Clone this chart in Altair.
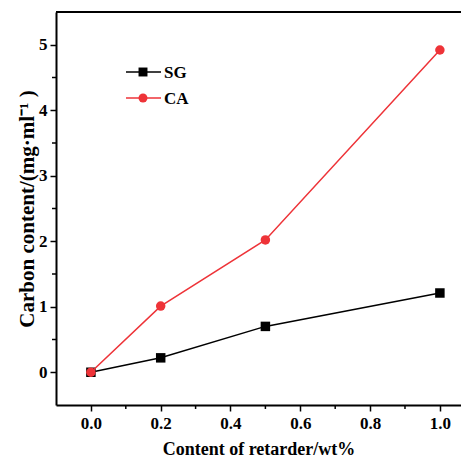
import altair as alt
import pandas as pd

# ---- data ----
x_vals = [0.0, 0.2, 0.5, 1.0]
sg_vals = [0.0, 0.22, 0.70, 1.21]
ca_vals = [0.0, 1.01, 2.02, 4.92]
series = ["SG", "CA"]
colors = ["#000000", "#ee3338"]
shapes = ["square", "circle"]
x_ticks = [0.0, 0.2, 0.4, 0.6, 0.8, 1.0]
x_minor = [0.1, 0.3, 0.5, 0.7, 0.9]
y_ticks = [0, 1, 2, 3, 4, 5]
y_minor = [0.5, 1.5, 2.5, 3.5, 4.5]

FONT = "Liberation Serif"
W, H = 405, 393

sg_df = pd.DataFrame({"x": x_vals, "y": sg_vals, "s": "SG"})
ca_df = pd.DataFrame({"x": x_vals, "y": ca_vals, "s": "CA"})

xs = alt.Scale(domain=[-0.1, 1.0605], nice=False, zero=False)
ys = alt.Scale(domain=[-0.5, 5.5], nice=False, zero=False)

x_axis = alt.Axis(values=x_ticks, format=".1f", title="Content of retarder/wt%",
                  grid=False, tickSize=6, tickWidth=1.5, domainWidth=2,
                  labelPadding=4, titlePadding=9, titleFontSize=18)
y_axis = alt.Axis(values=y_ticks, format="d", title="Carbon content/(mg·ml⁻¹ )",
                  grid=False, tickSize=6, tickWidth=1.5, domainWidth=2,
                  labelPadding=3, titlePadding=1, titleFontSize=21)

X = alt.X("x:Q", scale=xs, axis=x_axis)
Y = alt.Y("y:Q", scale=ys, axis=y_axis)


def series_layers(df, color, shape):
    line = alt.Chart(df).mark_line(color=color, strokeWidth=1.5).encode(x=X, y=Y)
    pts = alt.Chart(df).mark_point(color=color, filled=True, opacity=1,
                                   shape=shape, size=90).encode(x=X, y=Y)
    return [line, pts]


layers = []
layers += series_layers(sg_df, colors[0], shapes[0])
layers += series_layers(ca_df, colors[1], shapes[1])

# minor ticks
xm = alt.Chart(pd.DataFrame({"x": x_minor})).mark_rule(color="black", strokeWidth=1.5).encode(
    x=X, y=alt.value(H), y2=alt.value(H + 4))
ym = alt.Chart(pd.DataFrame({"y": y_minor})).mark_rule(color="black", strokeWidth=1.5).encode(
    y=Y, x=alt.value(0), x2=alt.value(-4))
top = alt.Chart(pd.DataFrame({"a": [0]})).mark_rule(color="black", strokeWidth=2).encode(
    x=alt.value(0), x2=alt.value(W), y=alt.value(0))
layers += [xm, ym, top]

# manual legend
leg_y = [60, 86]
for name, col, shp, ly in zip(series, colors, shapes, leg_y):
    d = pd.DataFrame({"t": [name]})
    layers.append(alt.Chart(d).mark_rule(color=col, strokeWidth=1.5).encode(
        x=alt.value(70), x2=alt.value(105), y=alt.value(ly)))
    layers.append(alt.Chart(d).mark_point(color=col, filled=True, opacity=1, shape=shp, size=80).encode(
        x=alt.value(87), y=alt.value(ly)))
    layers.append(alt.Chart(d).mark_text(font=FONT, fontWeight="bold", fontSize=17, align="left",
                                         baseline="middle", color="black").encode(
        x=alt.value(108), y=alt.value(ly + 1), text="t:N"))

chart = alt.layer(*layers).properties(
    width=W, height=H,
    autosize=alt.AutoSizeParams(type="none"),
    padding={"left": 48, "top": 4, "right": 0, "bottom": 54},
).configure_view(stroke=None).configure_axis(
    labelFont=FONT, labelFontWeight="bold", labelFontSize=17, labelColor="black",
    titleFont=FONT, titleFontWeight="bold", titleColor="black",
    domainColor="black", tickColor="black",
)

chart.save("out.html", embed_options={"renderer": "svg", "actions": False})
